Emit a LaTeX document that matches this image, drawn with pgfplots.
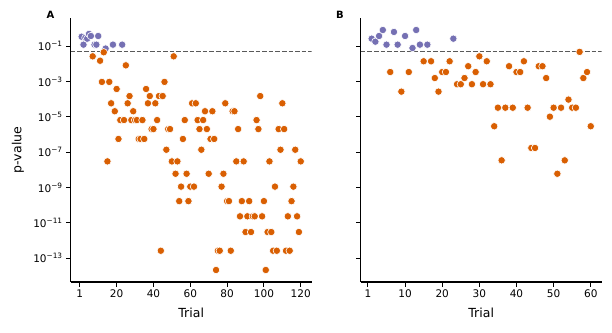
\documentclass[border=0pt]{standalone}
\usepackage{fontspec}
\setmainfont{DejaVu Sans}
\usepackage{pgfplots}
\usepackage{pgfplotstable}
\pgfplotsset{compat=1.18}
\definecolor{dkorange}{HTML}{D95F02}
\definecolor{dkpurple}{HTML}{7570B3}

% log10(p) per trial, panel A
\pgfplotstableread{
t lp
1 -0.46
2 -0.91
3 -0.52
4 -0.57
5 -0.30
6 -0.42
8 -0.91
9 -0.91
10 -0.42
14 -1.13
18 -0.91
23 -0.91
}\nsA
\pgfplotstableread{
t lp
7 -1.57
11 -1.82
12 -3.02
13 -1.34
15 -7.52
16 -3.02
17 -4.23
19 -4.68
20 -3.42
21 -6.25
22 -5.18
24 -5.18
25 -2.08
26 -4.23
27 -3.82
28 -5.18
29 -4.68
30 -5.18
31 -5.18
32 -6.25
33 -6.25
34 -5.18
35 -6.25
36 -3.42
37 -4.23
38 -3.82
39 -5.69
40 -5.69
41 -4.23
42 -5.18
43 -3.82
44 -12.58
45 -3.82
46 -3.02
47 -6.86
48 -5.69
49 -5.69
50 -7.52
51 -1.57
52 -8.22
53 -7.52
54 -9.77
55 -8.95
56 -6.25
57 -5.18
58 -8.22
59 -9.77
60 -8.95
61 -4.23
62 -8.95
63 -4.23
64 -5.18
65 -5.69
66 -6.86
67 -5.18
68 -4.68
69 -5.69
70 -8.22
71 -6.25
72 -4.68
73 -6.25
74 -13.67
75 -12.58
76 -12.58
77 -8.95
78 -8.22
79 -4.23
80 -9.77
81 -9.77
82 -12.58
83 -4.68
84 -4.68
85 -7.52
86 -5.69
87 -10.63
88 -9.77
89 -7.52
90 -11.52
91 -10.63
92 -9.77
93 -11.52
94 -10.63
95 -10.63
96 -5.18
97 -5.69
98 -3.82
99 -10.63
100 -9.77
101 -13.67
102 -11.52
103 -7.52
104 -11.52
105 -12.58
106 -8.95
107 -12.58
108 -5.69
109 -6.86
110 -4.23
111 -5.69
112 -12.58
113 -10.63
114 -12.58
115 -9.77
116 -8.95
117 -6.86
118 -10.63
119 -11.52
120 -7.52
}\sigA

% panel B
\pgfplotstableread{
t lp
1 -0.57
2 -0.74
3 -0.42
4 -0.08
5 -0.91
7 -0.19
8 -0.91
10 -0.42
12 -1.10
13 -0.08
14 -0.91
16 -0.91
23 -0.57
}\nsB
\pgfplotstableread{
t lp
6 -2.46
9 -3.57
11 -2.46
15 -1.85
17 -1.85
18 -2.80
19 -3.57
20 -2.46
21 -2.46
22 -1.85
24 -3.15
25 -3.15
26 -2.80
27 -2.13
28 -3.15
29 -2.46
30 -1.57
31 -3.15
32 -1.85
33 -3.15
34 -5.53
35 -4.48
36 -7.46
37 -4.48
38 -2.13
39 -4.48
40 -2.46
41 -2.46
42 -1.85
43 -4.48
44 -6.76
45 -6.76
46 -2.13
47 -2.13
48 -2.80
49 -4.99
50 -4.48
51 -8.22
52 -4.48
53 -7.46
54 -4.02
55 -4.48
56 -4.48
57 -1.32
58 -2.80
59 -2.46
60 -5.53
}\sigB

\pgfplotsset{
  pv/.style={
    scale only axis, width=241pt, height=264pt, anchor=south west,
    axis lines=left, axis line style={-, line width=1.1pt},
    ymin=-14.35, ymax=0.6,
    ytick={-1,-3,-5,-7,-9,-11,-13},
    tick align=outside, major tick length=4.5pt,
    tick style={line width=1.1pt, black},
    ticklabel style={font=\fontsize{10.5}{12}\selectfont},
    label style={font=\fontsize{12.5}{14}\selectfont},
    xlabel={Trial},
    xlabel style={at={(axis description cs:0.5,-0.117)}, anchor=center},
  },
  dots/.style={only marks, mark=*, mark size=3.7pt,
    mark options={draw=white, line width=0.6pt, fill=#1}},
  cut/.style={black!65, line width=1.1pt, dash pattern=on 4.6pt off 2pt},
}

\begin{document}
\begin{tikzpicture}
\useasboundingbox (0,0) rectangle (612pt,332pt);

\begin{axis}[pv, at={(70.7pt,50pt)},
  xmin=-4.95, xmax=125.95,
  xtick={0,20,40,60,80,100,120}, xticklabels={1,20,40,60,80,100,120},
  yticklabels={10\textsuperscript{−1},10\textsuperscript{−3},10\textsuperscript{−5},10\textsuperscript{−7},10\textsuperscript{−9},10\textsuperscript{−11},10\textsuperscript{−13}},
  ylabel={p-value},
  ylabel style={at={(axis description cs:-0.219,0.5)}, anchor=center},
]
\addplot[dots=dkpurple] table[x=t, y=lp] {\nsA};
\addplot[dots=dkorange] table[x=t, y=lp] {\sigA};
\addplot[cut] coordinates {(-4.95,-1.301) (125.95,-1.301)};
\end{axis}

\begin{axis}[pv, at={(360.7pt,50pt)},
  xmin=-1.95, xmax=62.95,
  xtick={0,10,20,30,40,50,60}, xticklabels={1,10,20,30,40,50,60},
  yticklabels={},
]
\addplot[dots=dkpurple] table[x=t, y=lp] {\nsB};
\addplot[dots=dkorange] table[x=t, y=lp] {\sigB};
\addplot[cut] coordinates {(-1.95,-1.301) (62.95,-1.301)};
\end{axis}

\node[font=\bfseries\fontsize{10}{12}\selectfont] at (50.5pt,317pt) {A};
\node[font=\bfseries\fontsize{10}{12}\selectfont] at (340pt,317pt) {B};
\end{tikzpicture}
\end{document}
